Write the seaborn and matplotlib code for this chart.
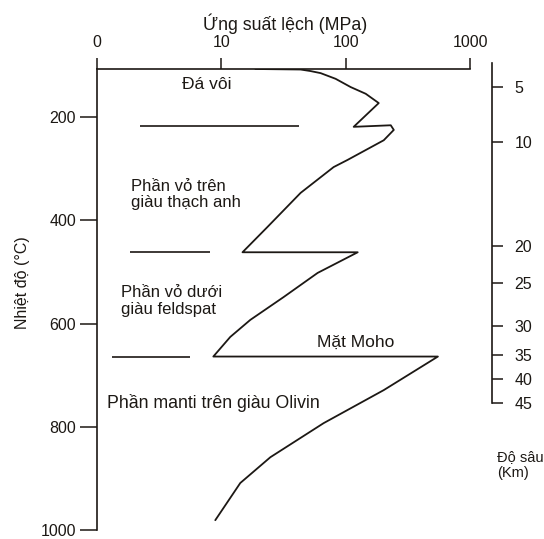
import numpy as np
import pandas as pd
import matplotlib
matplotlib.use("Agg")
import matplotlib.pyplot as plt
import seaborn as sns

# ---- data ----
# stress profile (MPa) vs temperature (deg C), in drawing order
stress_mpa = [18.8, 43.4, 52.2, 62.9, 83.0, 109.7, 145.0, 184.5, 116.0, 230.6, 243.8,
              202.5, 103.8, 80.0, 43.4, 23.5, 14.8, 125.0, 59.5, 31.6, 17.1, 11.8,
              8.62, 552.0, 202.5, 66.5, 24.8, 14.2, 8.94]
temp_c = [107, 108, 111, 115, 126, 142, 155, 173, 219, 216, 225,
          245, 283, 297, 347, 413, 462, 462, 502, 549, 593, 626,
          664, 664, 729, 793, 859, 909, 981]

# layer boundaries (short horizontal strokes on the left)
boundary_temp = [217, 462, 664]
boundary_from = [2.22, 1.85, 1.32]
boundary_to = [41.8, 8.15, 5.62]

# depth scale on the right (km at temperature position)
depth_km = [5, 10, 20, 25, 30, 35, 40, 45]
depth_temp = [142, 248, 450, 521, 605, 661, 707, 754]

x_ticks = [1, 10, 100, 1000]
x_labels = ["0", "10", "100", "1000"]
y_ticks = [200, 400, 600, 800, 1000]

ink = "#1c1814"

sns.set_style("ticks")
plt.rcParams['font.family'] = ['Liberation Sans', 'DejaVu Sans']
plt.rcParams['text.color'] = ink
plt.rcParams['axes.labelcolor'] = ink
plt.rcParams['xtick.color'] = ink
plt.rcParams['ytick.color'] = ink

df = pd.DataFrame({"stress": stress_mpa, "temp": temp_c})

fig = plt.figure(figsize=(5.44, 5.39), dpi=100)
ax = fig.add_axes([97 / 544, 1 - 530 / 539, 373 / 544, 461 / 539])

sns.lineplot(data=df, x="stress", y="temp", sort=False, estimator=None,
             color=ink, lw=1.3, ax=ax)
ax.hlines(boundary_temp, boundary_from, boundary_to, color=ink, lw=1.2)

ax.set_xscale("log")
ax.set_xlim(1, 1000)
ax.set_ylim(1000, 107)
ax.minorticks_off()

ax.xaxis.tick_top()
ax.set_xticks(x_ticks)
ax.set_xticklabels(x_labels)
ax.xaxis.set_label_position("top")
ax.set_xlabel("Ứng suất lệch (MPa)", fontsize=12.8)
ax.xaxis.set_label_coords(0.504, 1.085)
ax.set_yticks(y_ticks)
ax.set_ylabel("Nhiệt độ (°C)", fontsize=11.5)
ax.yaxis.set_label_coords(-0.18, 0.536)

ax.tick_params(axis="x", direction="out", length=8, width=1.1, pad=6, labelsize=11.5)
ax.tick_params(axis="y", direction="out", length=12, width=1.1, pad=3, labelsize=11.5)

for side in ["right", "bottom"]:
    ax.spines[side].set_visible(False)
for side in ["left", "top"]:
    ax.spines[side].set_color(ink)
    ax.spines[side].set_linewidth(1.2)

# right depth axis
ax2 = ax.twinx()
ax2.set_ylim(ax.get_ylim())
ax2.set_yticks(depth_temp)
ax2.set_yticklabels([str(d) for d in depth_km])
ax2.minorticks_off()
for side in ["left", "top", "bottom"]:
    ax2.spines[side].set_visible(False)
ax2.spines["right"].set_position(("outward", 16))
ax2.spines["right"].set_bounds(96, 754)
ax2.spines["right"].set_color(ink)
ax2.spines["right"].set_linewidth(1.2)
ax2.tick_params(axis="y", direction="out", length=8, width=1.1, pad=8, labelsize=11.5)

# region labels
ax.text(7.7, 137, "Đá vôi", ha="center", va="center", fontsize=12.5)
ax.text(1.88, 350, "Phần vỏ trên\ngiàu thạch anh", ha="left", va="center",
        linespacing=1.15, fontsize=12)
ax.text(1.56, 556, "Phần vỏ dưới\ngiàu feldspat", ha="left", va="center",
        linespacing=1.15, fontsize=12)
ax.text(120, 636, "Mặt Moho", ha="center", va="center", fontsize=12.5)
ax.text(1.2, 754, "Phần manti trên giàu Olivin", ha="left", va="center", fontsize=12.8)

fig.text(497 / 544, 1 - 465 / 539, "Độ sâu\n(Km)", ha="left", va="center",
         fontsize=10.5, linespacing=1.1)

fig.savefig("out.png", dpi=100)
